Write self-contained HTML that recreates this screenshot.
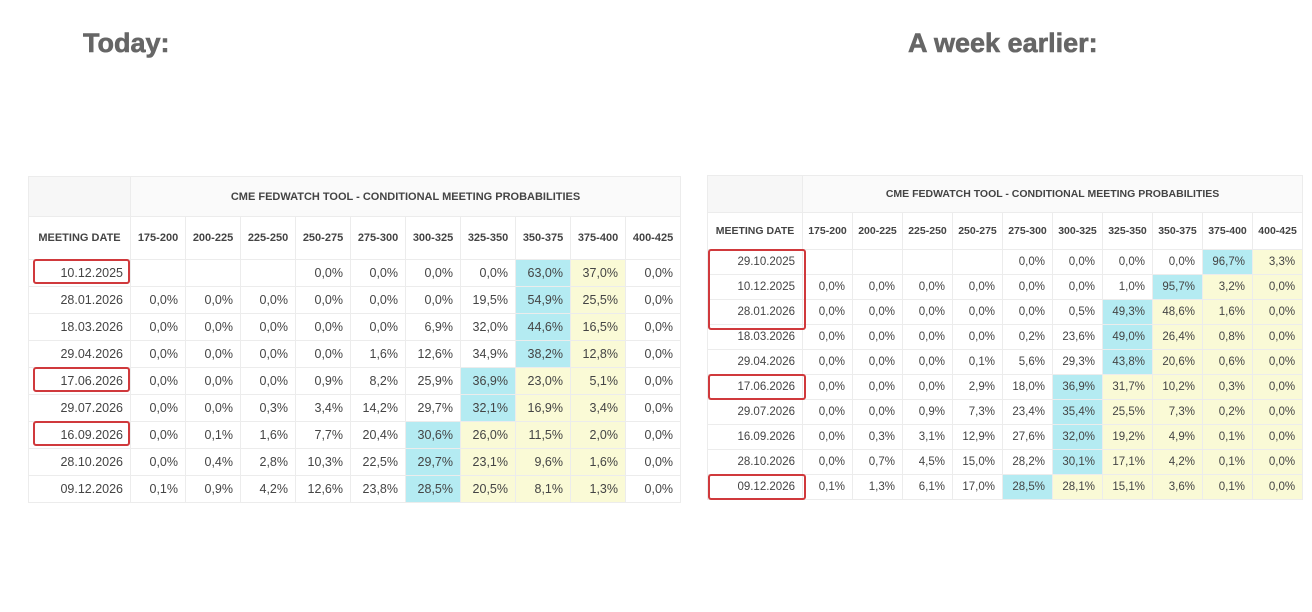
<!DOCTYPE html>
<html><head><meta charset="utf-8"><style>
body{margin:0;width:1312px;height:612px;background:#fff;position:relative;overflow:hidden;font-family:"Liberation Sans",Arial,sans-serif}
.h{position:absolute;font-weight:bold;font-size:27px;color:#666;top:28px;-webkit-text-stroke:0.6px #666}
table{position:absolute;border-collapse:collapse;table-layout:fixed;color:#444;background:#fff}
td{border:1px solid #ececec;text-align:right;padding:0 7px 0 0;white-space:nowrap;overflow:hidden}
.t1 td{font-size:12.5px;height:26px}
.t2 td{font-size:11.5px;height:24px}
tr.tt td{text-align:center;font-weight:bold;font-size:11px;background:#fafafa;padding:0}
tr.hd td{text-align:center;font-weight:bold;font-size:11px;padding:0}
.t2 tr.tt td,.t2 tr.hd td{font-size:10.5px}
.b{background:#b4ebf2}.y{background:#fafad6}
.r{position:absolute;border:2px solid #d0393c;border-radius:3px}
</style></head><body>
<div class="h" style="left:83px">Today:</div>
<div class="h" style="left:908px">A week earlier:</div>

<table class="t1" style="left:28px;top:176px;width:652px">
<colgroup><col style="width:102px"><col span="10" style="width:55px"></colgroup>
<tr class="tt"><td style="height:39px;background:#f7f7f7"></td><td colspan="10" style="height:39px">CME FEDWATCH TOOL - CONDITIONAL MEETING PROBABILITIES</td></tr>
<tr class="hd"><td style="height:42px">MEETING DATE</td><td>175-200</td><td>200-225</td><td>225-250</td><td>250-275</td><td>275-300</td><td>300-325</td><td>325-350</td><td>350-375</td><td>375-400</td><td>400-425</td></tr>
<tr><td>10.12.2025</td><td></td><td></td><td></td><td>0,0%</td><td>0,0%</td><td>0,0%</td><td>0,0%</td><td class="b">63,0%</td><td class="y">37,0%</td><td>0,0%</td></tr>
<tr><td>28.01.2026</td><td>0,0%</td><td>0,0%</td><td>0,0%</td><td>0,0%</td><td>0,0%</td><td>0,0%</td><td>19,5%</td><td class="b">54,9%</td><td class="y">25,5%</td><td>0,0%</td></tr>
<tr><td>18.03.2026</td><td>0,0%</td><td>0,0%</td><td>0,0%</td><td>0,0%</td><td>0,0%</td><td>6,9%</td><td>32,0%</td><td class="b">44,6%</td><td class="y">16,5%</td><td>0,0%</td></tr>
<tr><td>29.04.2026</td><td>0,0%</td><td>0,0%</td><td>0,0%</td><td>0,0%</td><td>1,6%</td><td>12,6%</td><td>34,9%</td><td class="b">38,2%</td><td class="y">12,8%</td><td>0,0%</td></tr>
<tr><td>17.06.2026</td><td>0,0%</td><td>0,0%</td><td>0,0%</td><td>0,9%</td><td>8,2%</td><td>25,9%</td><td class="b">36,9%</td><td class="y">23,0%</td><td class="y">5,1%</td><td>0,0%</td></tr>
<tr><td>29.07.2026</td><td>0,0%</td><td>0,0%</td><td>0,3%</td><td>3,4%</td><td>14,2%</td><td>29,7%</td><td class="b">32,1%</td><td class="y">16,9%</td><td class="y">3,4%</td><td>0,0%</td></tr>
<tr><td>16.09.2026</td><td>0,0%</td><td>0,1%</td><td>1,6%</td><td>7,7%</td><td>20,4%</td><td class="b">30,6%</td><td class="y">26,0%</td><td class="y">11,5%</td><td class="y">2,0%</td><td>0,0%</td></tr>
<tr><td>28.10.2026</td><td>0,0%</td><td>0,4%</td><td>2,8%</td><td>10,3%</td><td>22,5%</td><td class="b">29,7%</td><td class="y">23,1%</td><td class="y">9,6%</td><td class="y">1,6%</td><td>0,0%</td></tr>
<tr><td>09.12.2026</td><td>0,1%</td><td>0,9%</td><td>4,2%</td><td>12,6%</td><td>23,8%</td><td class="b">28,5%</td><td class="y">20,5%</td><td class="y">8,1%</td><td class="y">1,3%</td><td>0,0%</td></tr>
</table>
<div class="r" style="left:33px;top:259px;width:93px;height:21px"></div>
<div class="r" style="left:33px;top:367px;width:93px;height:21px"></div>
<div class="r" style="left:33px;top:421px;width:93px;height:21px"></div>

<table class="t2" style="left:707px;top:175px;width:595px">
<colgroup><col style="width:95px"><col span="10" style="width:50px"></colgroup>
<tr class="tt"><td style="height:36px;background:#f7f7f7"></td><td colspan="10" style="height:36px">CME FEDWATCH TOOL - CONDITIONAL MEETING PROBABILITIES</td></tr>
<tr class="hd"><td style="height:36px">MEETING DATE</td><td>175-200</td><td>200-225</td><td>225-250</td><td>250-275</td><td>275-300</td><td>300-325</td><td>325-350</td><td>350-375</td><td>375-400</td><td>400-425</td></tr>
<tr><td>29.10.2025</td><td></td><td></td><td></td><td></td><td>0,0%</td><td>0,0%</td><td>0,0%</td><td>0,0%</td><td class="b">96,7%</td><td class="y">3,3%</td></tr>
<tr><td>10.12.2025</td><td>0,0%</td><td>0,0%</td><td>0,0%</td><td>0,0%</td><td>0,0%</td><td>0,0%</td><td>1,0%</td><td class="b">95,7%</td><td class="y">3,2%</td><td class="y">0,0%</td></tr>
<tr><td>28.01.2026</td><td>0,0%</td><td>0,0%</td><td>0,0%</td><td>0,0%</td><td>0,0%</td><td>0,5%</td><td class="b">49,3%</td><td class="y">48,6%</td><td class="y">1,6%</td><td class="y">0,0%</td></tr>
<tr><td>18.03.2026</td><td>0,0%</td><td>0,0%</td><td>0,0%</td><td>0,0%</td><td>0,2%</td><td>23,6%</td><td class="b">49,0%</td><td class="y">26,4%</td><td class="y">0,8%</td><td class="y">0,0%</td></tr>
<tr><td>29.04.2026</td><td>0,0%</td><td>0,0%</td><td>0,0%</td><td>0,1%</td><td>5,6%</td><td>29,3%</td><td class="b">43,8%</td><td class="y">20,6%</td><td class="y">0,6%</td><td class="y">0,0%</td></tr>
<tr><td>17.06.2026</td><td>0,0%</td><td>0,0%</td><td>0,0%</td><td>2,9%</td><td>18,0%</td><td class="b">36,9%</td><td class="y">31,7%</td><td class="y">10,2%</td><td class="y">0,3%</td><td class="y">0,0%</td></tr>
<tr><td>29.07.2026</td><td>0,0%</td><td>0,0%</td><td>0,9%</td><td>7,3%</td><td>23,4%</td><td class="b">35,4%</td><td class="y">25,5%</td><td class="y">7,3%</td><td class="y">0,2%</td><td class="y">0,0%</td></tr>
<tr><td>16.09.2026</td><td>0,0%</td><td>0,3%</td><td>3,1%</td><td>12,9%</td><td>27,6%</td><td class="b">32,0%</td><td class="y">19,2%</td><td class="y">4,9%</td><td class="y">0,1%</td><td class="y">0,0%</td></tr>
<tr><td>28.10.2026</td><td>0,0%</td><td>0,7%</td><td>4,5%</td><td>15,0%</td><td>28,2%</td><td class="b">30,1%</td><td class="y">17,1%</td><td class="y">4,2%</td><td class="y">0,1%</td><td class="y">0,0%</td></tr>
<tr><td>09.12.2026</td><td>0,1%</td><td>1,3%</td><td>6,1%</td><td>17,0%</td><td class="b">28,5%</td><td class="y">28,1%</td><td class="y">15,1%</td><td class="y">3,6%</td><td class="y">0,1%</td><td class="y">0,0%</td></tr>
</table>
<div class="r" style="left:708px;top:249px;width:94px;height:77px"></div>
<div class="r" style="left:708px;top:374px;width:94px;height:22px"></div>
<div class="r" style="left:708px;top:474px;width:94px;height:22px"></div>
</body></html>
